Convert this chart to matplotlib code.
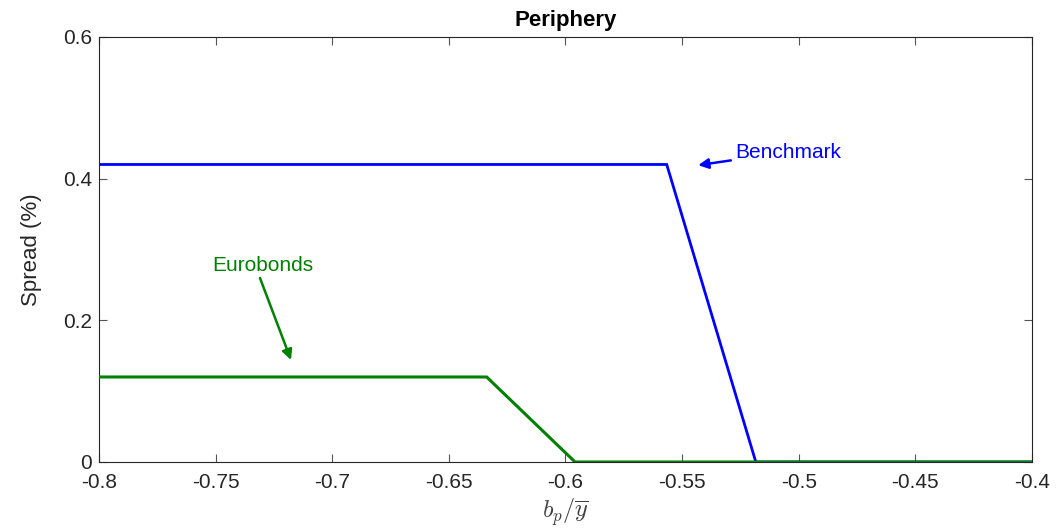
import matplotlib
matplotlib.use("Agg")
import matplotlib.pyplot as plt

plt.rcParams['font.family'] = ['Liberation Sans', 'DejaVu Sans']
plt.rcParams['mathtext.fontset'] = 'cm'

# Debt-to-output grid breakpoints and spreads
bench_x = [-0.8, -0.5566, -0.5184, -0.4]
bench_y = [0.42, 0.42, 0.0, 0.0]
euro_x = [-0.8, -0.6338, -0.5959, -0.4]
euro_y = [0.12, 0.12, 0.0, 0.0]

xticks = [-0.8, -0.75, -0.7, -0.65, -0.6, -0.55, -0.5, -0.45, -0.4]
xticklabels = ['-0.8', '-0.75', '-0.7', '-0.65', '-0.6', '-0.55', '-0.5', '-0.45', '-0.4']
yticks = [0, 0.2, 0.4, 0.6]
yticklabels = ['0', '0.2', '0.4', '0.6']

fig = plt.figure(figsize=(10.57, 5.32), dpi=100)
ax = fig.add_axes([0.0937, 0.1316, 0.8826, 0.7989])

blue = (0, 0, 1)
green = (0, 0.5, 0)
ax.plot(bench_x, bench_y, color=blue, lw=2.0, solid_joinstyle='miter', zorder=2)
ax.plot(euro_x, euro_y, color=green, lw=2.2, solid_joinstyle='miter', zorder=3)

ax.set_xlim(-0.8, -0.4)
ax.set_ylim(0, 0.6)
ax.set_xticks(xticks)
ax.set_xticklabels(xticklabels)
ax.set_yticks(yticks)
ax.set_yticklabels(yticklabels)

axcol = '#262626'
for s in ax.spines.values():
    s.set_color(axcol)
    s.set_linewidth(0.8)
ax.tick_params(direction='in', top=True, right=True, length=6, width=0.8,
               color='#555555', labelcolor=axcol, labelsize=15)
ax.tick_params(axis='x', pad=8)
ax.tick_params(axis='y', pad=5)

ax.set_title('Periphery', fontsize=16, fontweight='bold', pad=8)
ax.set_xlabel(r'$b_p/\overline{y}$', fontsize=17.5, color='#404040', labelpad=3)
ax.set_ylabel('Spread (%)', fontsize=16, color=axcol, labelpad=15)

ax.annotate('Benchmark', xy=(-0.5431, 0.419), xytext=(-0.5273, 0.4376),
            color=blue, fontsize=15, va='center', ha='left',
            arrowprops=dict(arrowstyle='-|>', color=blue, lw=1.8,
                            mutation_scale=15, shrinkA=1, shrinkB=0))
ax.annotate('', xy=(-0.7177, 0.144), xytext=(-0.731, 0.2598),
            arrowprops=dict(arrowstyle='-|>', color=green, lw=1.8,
                            mutation_scale=15, shrinkA=0, shrinkB=0))
ax.text(-0.7297, 0.2767, 'Eurobonds', color=green, fontsize=15,
        ha='center', va='center')

fig.savefig('out.png', dpi=100)
